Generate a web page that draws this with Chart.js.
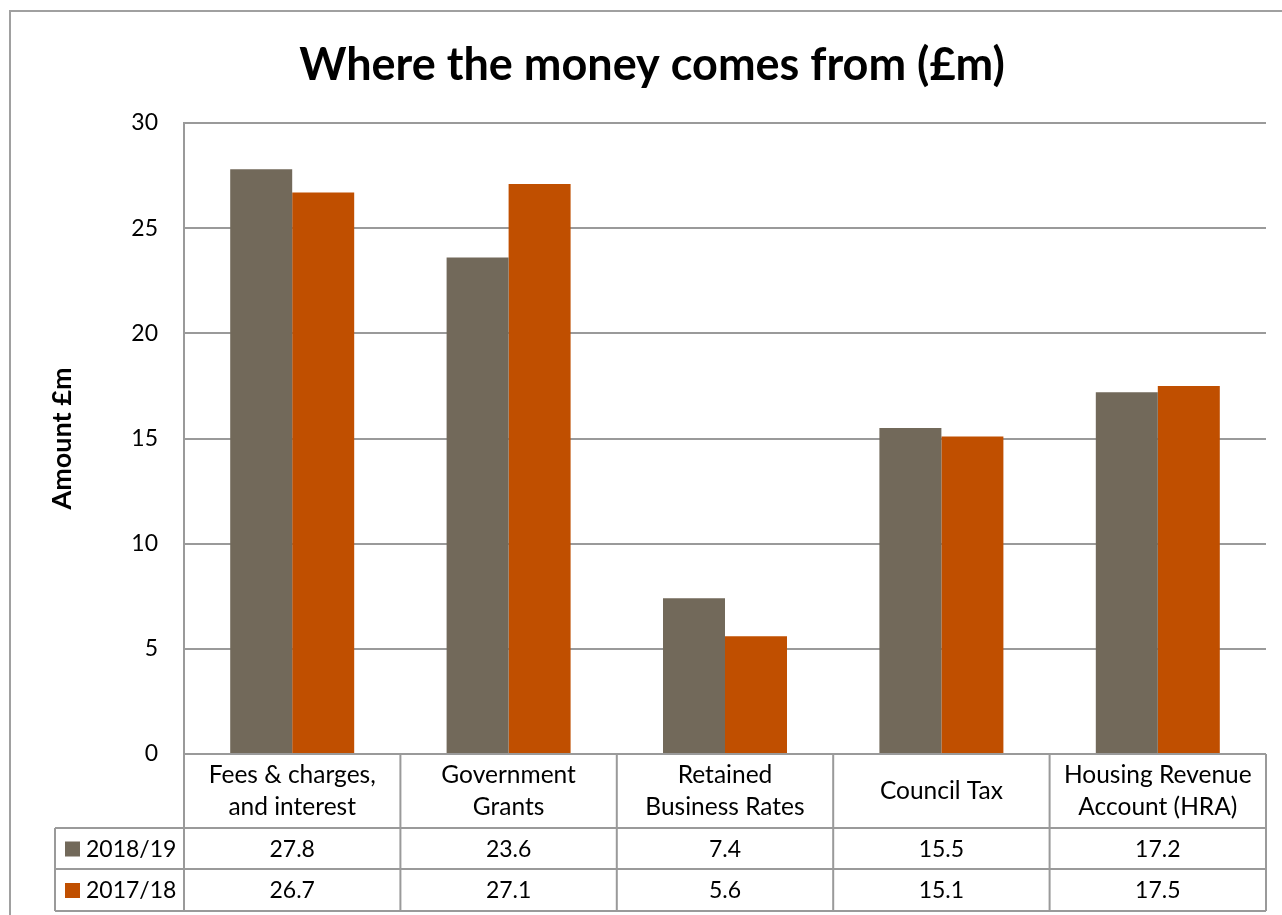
<!DOCTYPE html>
<html><head><meta charset="utf-8">
<script src="https://cdn.jsdelivr.net/npm/chart.js@4.4.1/dist/chart.umd.min.js"></script>
<style>html,body{margin:0;padding:0;background:#fff;} #wrap{position:relative;width:1282px;height:915px;}</style>
</head><body><div id="wrap"><canvas id="c" width="1282" height="915"></canvas></div>
<script>
const chartTitle = "Where the money comes from (£m)";
const categories = [["Fees & charges,","and interest"],["Government","Grants"],["Retained","Business Rates"],["Council Tax"],["Housing Revenue","Account (HRA)"]];
const seriesNames = ["2018/19","2017/18"];
const values2018 = [27.8,23.6,7.4,15.5,17.2];
const values2017 = [26.7,27.1,5.6,15.1,17.5];
const valueLabels2018 = ["27.8","23.6","7.4","15.5","17.2"];
const valueLabels2017 = ["26.7","27.1","5.6","15.1","17.5"];
const yTicks = [0,5,10,15,20,25,30];
const seriesColors = ["#72695A","#C04F00"];
const FONT = "Lato, 'Open Sans', sans-serif";
const LINE = "#9a9a9a";

const tablePlugin = {
  id: 'dataTable',
  afterDraw(chart) {
    const ctx = chart.ctx;
    const xs = chart.scales.x;
    const area = chart.chartArea;
    const n = categories.length;
    const centers = categories.map((_, i) => xs.getPixelForTick(i));
    const step = centers.length > 1 ? centers[1] - centers[0] : area.right - area.left;
    const bounds = [centers[0] - step / 2].concat(centers.map(c => c + step / 2));
    const top = area.bottom, catBottom = top + 74, r1 = catBottom + 41, r2 = r1 + 42;
    const labelLeft = 55;
    ctx.save();
    // outer chart border
    ctx.strokeStyle = "#a0a0a0"; ctx.lineWidth = 2;
    ctx.strokeRect(10, 11, 1400, 1000);
    // title
    ctx.fillStyle = "#000";
    ctx.font = "bold 45px " + FONT;
    ctx.textAlign = "center"; ctx.textBaseline = "alphabetic";
    ctx.fillText(chartTitle, 652, 80);
    ctx.strokeStyle = LINE; ctx.lineWidth = 2;
    ctx.beginPath();
    ctx.moveTo(bounds[0], top); ctx.lineTo(bounds[n], top);
    ctx.moveTo(labelLeft, catBottom); ctx.lineTo(bounds[n], catBottom);
    ctx.moveTo(labelLeft, r1); ctx.lineTo(bounds[n], r1);
    ctx.moveTo(labelLeft, r2); ctx.lineTo(bounds[n], r2);
    bounds.forEach(b => { ctx.moveTo(b, top); ctx.lineTo(b, r2); });
    ctx.moveTo(labelLeft, catBottom); ctx.lineTo(labelLeft, r2);
    ctx.stroke();
    ctx.fillStyle = "#000";
    ctx.textAlign = "center"; ctx.textBaseline = "middle";
    ctx.font = "24.5px " + FONT;
    const cy = (top + catBottom) / 2;
    categories.forEach((lines, i) => {
      const lh = 32;
      lines.forEach((t, j) => {
        ctx.fillText(t, centers[i], cy + (j - (lines.length - 1) / 2) * lh);
      });
    });
    ctx.font = "23px " + FONT;
    const rowsY = [(catBottom + r1) / 2, (r1 + r2) / 2];
    const rowVals = [valueLabels2018, valueLabels2017];
    rowVals.forEach((vals, r) => {
      vals.forEach((v, i) => ctx.fillText(v, centers[i], rowsY[r] + 1));
      ctx.fillStyle = seriesColors[r];
      ctx.fillRect(65, rowsY[r] - 7, 15, 15);
      ctx.fillStyle = "#000";
      ctx.textAlign = "left";
      ctx.fillText(seriesNames[r], 86, rowsY[r] + 1);
      ctx.textAlign = "center";
    });
    ctx.restore();
  }
};

new Chart(document.getElementById('c'), {
  type: 'bar',
  data: {
    labels: categories,
    datasets: [
      { label: seriesNames[0], data: values2018, backgroundColor: seriesColors[0], barPercentage: 1, categoryPercentage: 0.573 },
      { label: seriesNames[1], data: values2017, backgroundColor: seriesColors[1], barPercentage: 1, categoryPercentage: 0.573 }
    ]
  },
  options: {
    responsive: false, animation: false, devicePixelRatio: 1,
    layout: { padding: { left: 10, top: 123, right: 16, bottom: 0 } },
    plugins: {
      legend: { display: false },
      tooltip: { enabled: false },
      title: { display: false }
    },
    scales: {
      x: {
        ticks: { display: false },
        grid: { display: false },
        border: { display: false },
        afterFit(s) { s.height = 161; }
      },
      y: {
        min: yTicks[0], max: yTicks[yTicks.length - 1],
        afterBuildTicks(s) { s.ticks = yTicks.map(v => ({ value: v })); },
        ticks: { color: '#000', font: { family: FONT, size: 23 }, padding: 26 },
        grid: { color: LINE, lineWidth: 2, drawTicks: false },
        border: { display: true, color: LINE, width: 2 },
        title: { display: true, text: 'Amount £m', color: '#000', font: { family: FONT, size: 27, weight: 'bold' }, padding: { top: 36, bottom: 0 } },
        afterFit(s) { s.width = 174; }
      }
    }
  },
  plugins: [tablePlugin]
});
</script></body></html>
